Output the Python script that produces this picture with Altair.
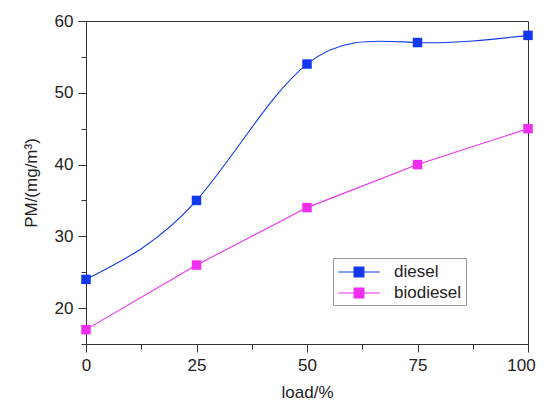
import altair as alt
import pandas as pd

loads = [0, 25, 50, 75, 100]
diesel = [24, 35, 54, 57, 58]
biodiesel = [17, 26, 34, 40, 45]
series_names = ["diesel", "biodiesel"]
series_colors = ["#1238f0", "#f02ef0"]
x_ticks = [0, 12.5, 25, 37.5, 50, 62.5, 75, 87.5, 100]
y_ticks = [15, 20, 25, 30, 35, 40, 45, 50, 55, 60]

df = pd.DataFrame({
    "load": loads * 2,
    "PM": diesel + biodiesel,
    "fuel": ["diesel"] * 5 + ["biodiesel"] * 5,
})

FONT = "Liberation Sans"
xs = alt.Scale(domain=[0, 100], nice=False)
ys = alt.Scale(domain=[15, 60], nice=False, zero=False)
color = alt.Color(
    "fuel:N",
    scale=alt.Scale(domain=series_names, range=series_colors),
    legend=alt.Legend(
        title=None, orient="none", legendX=247, legendY=237,
        direction="vertical",
        symbolType="M-2.3,0L2.3,0M-0.55,-0.55L0.55,-0.55L0.55,0.55L-0.55,0.55Z",
        symbolSize=324, symbolStrokeWidth=1.1, symbolOffset=12,
        labelFontSize=17, labelFont=FONT, labelColor="#222",
        strokeColor="#999", fillColor="white", padding=4,
        rowPadding=3, labelOffset=25,
    ),
)

x_tick_size = {"condition": {"test": "datum.value % 25 === 0", "value": 8}, "value": 5}
y_tick_size = {"condition": {"test": "datum.value % 10 === 0", "value": 8}, "value": 5}
x_label_offset = {"condition": {"test": "datum.value === 100", "value": -7}, "value": 0}

xax = alt.Axis(values=x_ticks, title="load/%", tickSize=x_tick_size, labelFontSize=17,
               labelExpr="datum.value % 25 === 0 ? datum.label : ''",
               labelOffset=x_label_offset,
               titleFontSize=17, labelFont=FONT, titleFont=FONT, grid=False,
               domainColor="#333", tickColor="#333", labelColor="#222",
               titleColor="#222", labelPadding=5, titleFontWeight="normal",
               titlePadding=11, labelFlush=False, labelOverlap=False)
yax = alt.Axis(values=y_ticks, title="PM/(mg/m³)", tickSize=y_tick_size, labelFontSize=17,
               labelExpr="datum.value % 10 === 0 ? datum.label : ''",
               titleFontSize=17, labelFont=FONT, titleFont=FONT, grid=False,
               domainColor="#333", tickColor="#333", labelColor="#222",
               titleColor="#222", labelPadding=5, titleFontWeight="normal",
               titlePadding=14, labelOverlap=False)

base = alt.Chart(df)

d_line = base.transform_filter(alt.datum.fuel == "diesel").mark_line(
    interpolate="natural", strokeWidth=1.1).encode(
    x=alt.X("load:Q", scale=xs, axis=xax),
    y=alt.Y("PM:Q", scale=ys, axis=yax),
    color=color,
)
b_line = base.transform_filter(alt.datum.fuel == "biodiesel").mark_line(
    interpolate="linear", strokeWidth=1.1).encode(
    x=alt.X("load:Q", scale=xs, axis=xax),
    y=alt.Y("PM:Q", scale=ys, axis=yax),
    color=color,
)
pts = base.mark_point(shape="square", filled=True, size=90, opacity=1).encode(
    x=alt.X("load:Q", scale=xs, axis=xax),
    y=alt.Y("PM:Q", scale=ys, axis=yax),
    color=color,
)

chart = alt.layer(d_line, b_line, pts).properties(
    width=442, height=323,
    padding={"left": 78, "top": 13, "right": 8, "bottom": 58},
    autosize=alt.AutoSizeParams(type="none"),
).configure_view(stroke="#333", strokeWidth=1)

chart.save("out.html", embed_options={"renderer": "svg", "actions": False})
